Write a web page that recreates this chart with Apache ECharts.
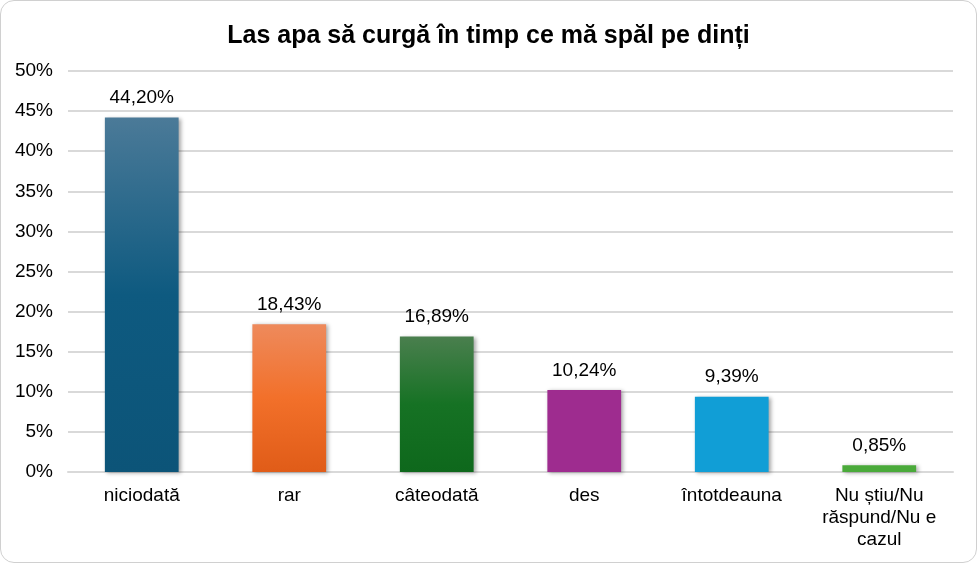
<!DOCTYPE html>
<html>
<head>
<meta charset="utf-8">
<script src="https://cdn.jsdelivr.net/npm/echarts@6/dist/echarts.min.js"></script>
<style>
  html, body { margin: 0; padding: 0; background: #fff; }
  #main { width: 975px; height: 561px; border: 1px solid #d0d0d0; border-radius: 14px; overflow: hidden; }
</style>
</head>
<body>
<div id="main"></div>
<script type="text/javascript">
var categories = ['niciodată', 'rar', 'câteodată', 'des', 'întotdeauna', 'Nu știu/Nu\nrăspund/Nu e\ncazul'];
var values = [44.20, 18.43, 16.89, 10.24, 9.39, 0.85];
var barColors = [
    ['#4b7a98', '#0e5a80', '#0c5478'],
    ['#ee8a5c', '#f2702a', '#e05c18'],
    ['#4a7f4e', '#167224', '#0e681c'],
    ['#9e2c8f', '#9e2c8f', '#9e2c8f'],
    ['#119ed6', '#119ed6', '#119ed6'],
    ['#4aaa3a', '#4aaa3a', '#4aaa3a']
];

var myChart = echarts.init(document.getElementById('main'));
var option = {
    textStyle: { fontFamily: 'Liberation Sans, Arial, sans-serif' },
    title: {
        text: 'Las apa să curgă în timp ce mă spăl pe dinți',
        left: 'center',
        top: 18,
        textStyle: { fontSize: 25, fontWeight: 'bold', color: '#000', fontFamily: 'Liberation Sans, Arial, sans-serif' }
    },
    grid: { left: 67, right: 23, top: 70, bottom: 90, containLabel: false },
    xAxis: {
        type: 'category',
        data: categories,
        axisLine: { lineStyle: { color: '#d9d9d9', width: 2 } },
        axisTick: { show: false },
        axisLabel: { color: '#000', fontSize: 19, margin: 13, lineHeight: 22, interval: 0 }
    },
    yAxis: {
        type: 'value',
        min: 0,
        max: 50,
        interval: 5,
        axisLine: { show: false },
        axisTick: { show: false },
        splitLine: { lineStyle: { color: '#d9d9d9', width: 2 } },
        axisLabel: { color: '#000', fontSize: 19, margin: 15, formatter: '{value}%' }
    },
    series: [{
        type: 'bar',
        barWidth: '50%',
        data: values.map(function (v, i) {
            var c = barColors[i];
            return {
                value: v,
                itemStyle: {
                    color: new echarts.graphic.LinearGradient(0, 0, 0, 1, [
                        { offset: 0, color: c[0] },
                        { offset: 0.5, color: c[1] },
                        { offset: 1, color: c[2] }
                    ]),
                    shadowBlur: 4,
                    shadowOffsetX: 2,
                    shadowOffsetY: 1,
                    shadowColor: 'rgba(0,0,0,0.35)'
                }
            };
        }),
        label: {
            show: true,
            position: 'top',
            distance: 10,
            color: '#000',
            fontSize: 19,
            formatter: function (p) { return p.value.toFixed(2).replace('.', ',') + '%'; }
        }
    }]
};
myChart.setOption(option);
</script>
</body>
</html>
